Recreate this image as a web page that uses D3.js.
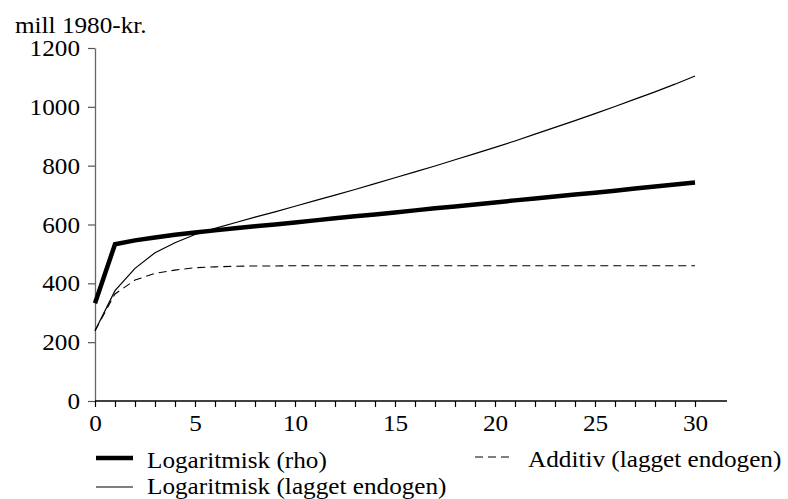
<!DOCTYPE html>
<html>
<head>
<meta charset="utf-8">
<script src="https://cdn.jsdelivr.net/npm/d3@7"></script>
<style>
  html, body { margin: 0; padding: 0; background: #fff; }
  svg { display: block; font-family: "Liberation Serif", "Times New Roman", serif; }
</style>
</head>
<body>
<svg id="chart" width="788" height="499"></svg>
<script>
// Years after the change (0..30)
const years = d3.range(0, 31);

// Logaritmisk (rho), mill 1980-kr.
const logRho = [332, 533, 546, 556, 565, 573, 580, 587, 594, 600, 607,
  614, 621, 628, 634, 641, 648, 655, 661, 668, 675,
  682, 688, 695, 702, 708, 715, 722, 729, 736, 743];

// Logaritmisk (lagget endogen)
const logLag = [239, 375, 451, 504, 538, 566, 587, 606, 625, 643, 662,
  681, 700, 719, 739, 759, 779, 799, 820, 841, 862,
  884, 907, 930, 953, 977, 1001, 1026, 1051, 1077, 1105];

// Additiv (lagget endogen)
const addLag = [239, 364, 411, 434, 445, 453, 456, 458, 459, 459, 460,
  460, 460, 460, 460, 460, 460, 460, 460, 460, 460,
  460, 460, 460, 460, 460, 460, 460, 460, 460, 460];

const yTicks = [0, 200, 400, 600, 800, 1000, 1200];
const xTicks = [0, 5, 10, 15, 20, 25, 30];

const series = [
  { name: "Logaritmisk (rho)", values: logRho, width: 4.5, dash: null },
  { name: "Logaritmisk (lagget endogen)", values: logLag, width: 1.2, dash: null },
  { name: "Additiv (lagget endogen)", values: addLag, width: 1.1, dash: "8,5" }
];

const svg = d3.select("#chart");
const fontSize = 22.5;
const widen = 1.12; // glyphs are set slightly wide

const x = d3.scaleLinear().domain([0, 30]).range([95, 695]);
const y = d3.scaleLinear().domain([0, 1200]).range([401, 48]);

// y axis
const yAxis = svg.append("g").attr("transform", `translate(${x(0)},0)`)
  .call(d3.axisLeft(y).tickValues(yTicks).tickSize(7).tickPadding(8).tickSizeOuter(0)
    .tickFormat(d3.format("d")));
yAxis.select(".domain").attr("stroke", "#666").attr("stroke-width", 1.3);
yAxis.selectAll(".tick line").attr("stroke", "#555").attr("stroke-width", 1.2);
yAxis.selectAll("text").attr("font-size", fontSize).attr("fill", "#000")
  .attr("font-family", "Liberation Serif").attr("dy", "0.34em");

// x axis with a tick at every year
const xAxis = svg.append("g").attr("transform", `translate(0,${y(0)})`)
  .call(d3.axisBottom(x).tickValues(years).tickSize(6).tickPadding(8).tickSizeOuter(0)
    .tickFormat(d => xTicks.includes(d) ? d : ""));
xAxis.select(".domain").remove();
xAxis.append("line")
  .attr("x1", x(0)).attr("x2", x(31.6)).attr("y1", 0).attr("y2", 0)
  .attr("stroke", "#000").attr("stroke-width", 1.6);
xAxis.selectAll(".tick line").attr("stroke", "#000").attr("stroke-width", 1.2);
xAxis.selectAll("text").attr("font-size", fontSize).attr("fill", "#000")
  .attr("font-family", "Liberation Serif");

// unit label
svg.append("text").attr("x", 15).attr("y", 33)
  .attr("font-size", fontSize).text("mill 1980-kr.");

// series lines
const line = d3.line().x((d, i) => x(years[i])).y(d => y(d));
series.forEach(s => {
  svg.append("path")
    .attr("d", line(s.values))
    .attr("fill", "none")
    .attr("stroke", "#000")
    .attr("stroke-width", s.width)
    .attr("stroke-dasharray", s.dash)
    .attr("stroke-linejoin", "miter");
});

// legend
const legendPos = [
  { x: 96, y: 458, tx: 147, ty: 468, len: 37 },
  { x: 96, y: 487, tx: 147, ty: 494, len: 37 },
  { x: 475, y: 457, tx: 528, ty: 467, len: 35 }
];
series.forEach((s, i) => {
  const p = legendPos[i];
  svg.append("line")
    .attr("x1", p.x).attr("x2", p.x + p.len).attr("y1", p.y).attr("y2", p.y)
    .attr("stroke", "#000").attr("stroke-width", s.width)
    .attr("stroke-dasharray", s.dash);
  svg.append("text").attr("x", p.tx).attr("y", p.ty)
    .attr("font-size", fontSize).text(s.name);
});

// stretch every label horizontally to the wide setting
svg.selectAll("text").each(function () {
  const w = this.getComputedTextLength();
  if (w > 0) {
    d3.select(this).attr("textLength", w * widen).attr("lengthAdjust", "spacingAndGlyphs");
  }
});
</script>
</body>
</html>
